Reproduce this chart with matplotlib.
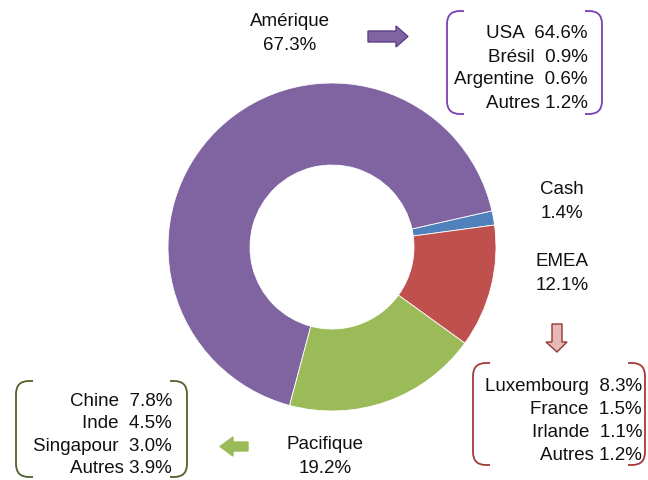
import matplotlib
matplotlib.use("Agg")
import matplotlib.pyplot as plt
from matplotlib.path import Path
from matplotlib.patches import PathPatch, Polygon

plt.rcParams['font.family'] = ['Liberation Sans', 'DejaVu Sans']

# data
regions = ['Cash', 'Amérique', 'Pacifique', 'EMEA']
shares = [1.4, 67.3, 19.2, 12.1]
colors = ['#4F81BD', '#8064A2', '#9BBB59', '#C0504D']

amerique_names = ['USA', 'Brésil', 'Argentine', 'Autres']
amerique_vals = ['64.6%', '0.9%', '0.6%', '1.2%']
emea_names = ['Luxembourg', 'France', 'Irlande', 'Autres']
emea_vals = ['8.3%', '1.5%', '1.1%', '1.2%']
pacif_names = ['Chine', 'Inde', 'Singapour', 'Autres']
pacif_vals = ['7.8%', '4.5%', '3.0%', '3.9%']

W, H = 648, 481
fig = plt.figure(figsize=(W / 100, H / 100), dpi=100)

# donut
cx, cy, R = 332, 248, 164
ax = fig.add_axes([(cx - R) / W, 1 - (cy + R) / H, 2 * R / W, 2 * R / H])
ax.pie(shares, colors=colors, startangle=7.7, counterclock=True,
       wedgeprops=dict(width=0.5, edgecolor='white', linewidth=0.6))
ax.set_xlim(-1, 1)
ax.set_ylim(-1, 1)
ax.set_aspect('equal')
ax.axis('off')

# overlay in pixel coords
ov = fig.add_axes([0, 0, 1, 1])
ov.set_xlim(0, W)
ov.set_ylim(H, 0)
ov.axis('off')

fs = 13.5
tc = '#111111'


def label(x, y, name, pct):
    ov.text(x, y, name, ha='center', va='center', fontsize=fs, color=tc)
    ov.text(x, y + 24, pct, ha='center', va='center', fontsize=fs, color=tc)


label(290, 22, regions[1], f'{shares[1]}%')
label(562, 190, regions[0], f'{shares[0]}%')
label(562, 262, regions[3], f'{shares[3]}%')
label(325, 445, regions[2], f'{shares[2]}%')


def brace_box(x0, x1, yt, yb, color, r=13, stub=4):
    verts, codes = [], []
    for side in (x0, x1):
        s = 1 if side == x0 else -1
        verts += [(side + s * (r + stub), yt), (side + s * r, yt), (side, yt),
                  (side, yt + r), (side, yb - r), (side, yb),
                  (side + s * r, yb), (side + s * (r + stub), yb)]
        codes += [Path.MOVETO, Path.LINETO, Path.CURVE3, Path.CURVE3,
                  Path.LINETO, Path.CURVE3, Path.CURVE3, Path.LINETO]
    ov.add_patch(PathPatch(Path(verts, codes), fill=False, edgecolor=color,
                           linewidth=1.3))


def list_text(xr, ys, names, vals):
    for y, n, v in zip(ys, names, vals):
        ov.text(xr, y, f'{n}  {v}' if n != 'Autres' else f'{n} {v}',
                ha='right', va='center', fontsize=fs, color=tc)


brace_box(447, 602, 12, 115, '#7B3FB5')
list_text(588, [34, 57, 80, 103], amerique_names, amerique_vals)

brace_box(473, 645, 364, 466, '#A23A3A')
list_text(642, [387, 410, 433, 456], emea_names, emea_vals)

brace_box(16, 187, 382, 478, '#4F6228')
list_text(172, [402, 424, 447, 469], pacif_names, pacif_vals)

# arrows
ov.add_patch(Polygon([(368, 32), (396, 32), (396, 27), (408, 37.5), (396, 48),
                      (396, 43), (368, 43)], closed=True,
                     facecolor='#8064A2', edgecolor='#5F3F8A', linewidth=1))
ov.add_patch(Polygon([(552, 325), (562, 325), (562, 343), (567, 343), (557, 353),
                      (546, 343), (552, 343)], closed=True,
                     facecolor='#E6B9B8', edgecolor='#943634', linewidth=1))
ov.add_patch(Polygon([(248, 443), (233, 443), (233, 438), (220, 447.5), (233, 457),
                      (233, 452), (248, 452)], closed=True,
                     facecolor='#9BBB59', edgecolor='#9BBB59', linewidth=1))

fig.savefig('out.png', dpi=100)
